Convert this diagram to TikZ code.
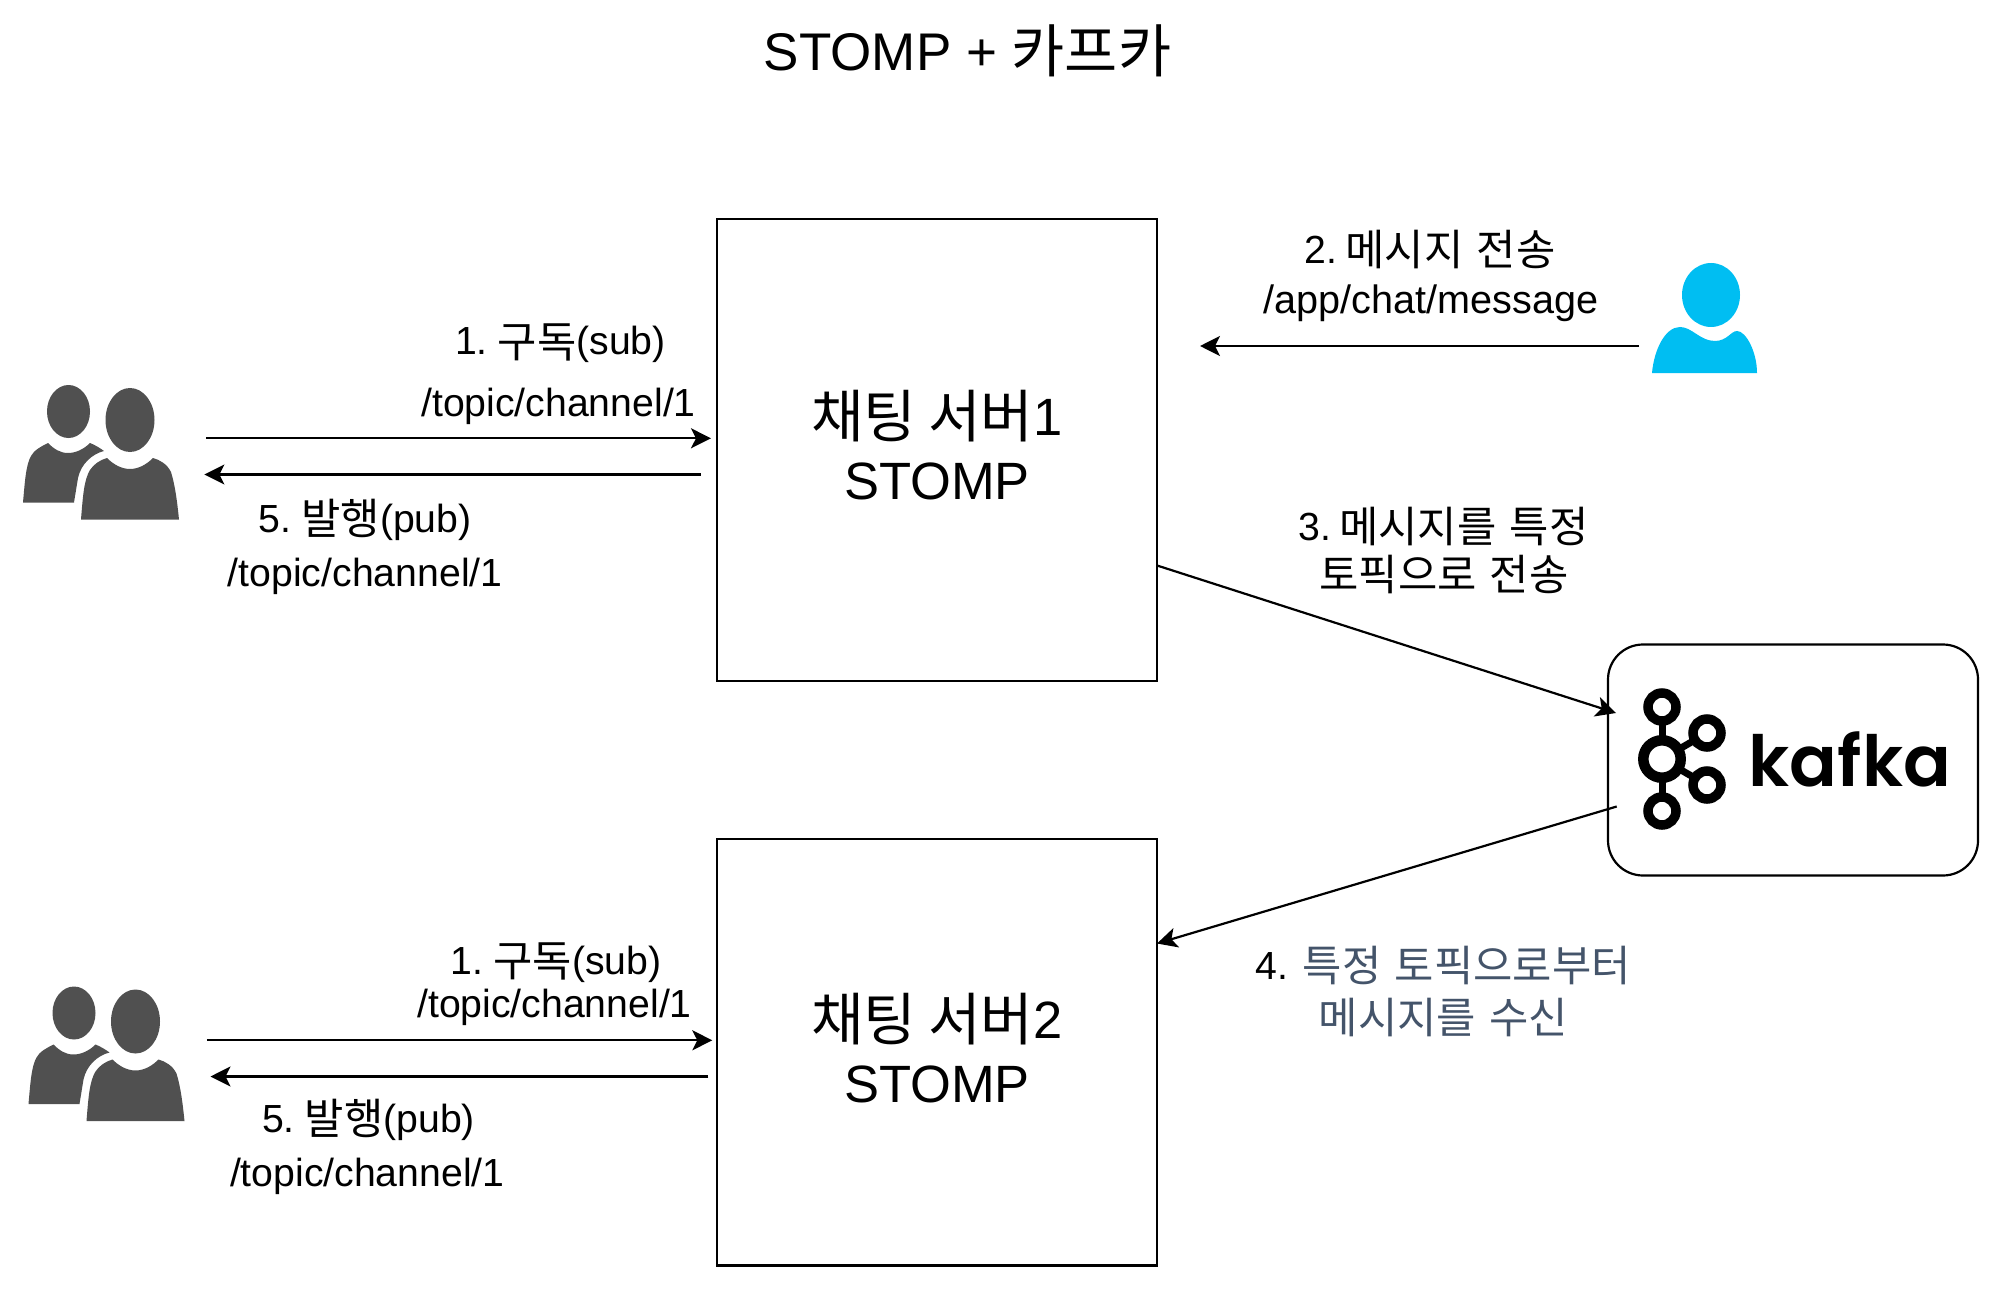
\documentclass[tikz,border=0pt]{standalone}
\usepackage{fontspec}
\usetikzlibrary{arrows.meta}
\setmainfont{Liberation Sans}
\newfontfamily\kr[Scale=1.09,WordSpace=1.4]{Noto Sans CJK KR}
\newfontfamily\kafkafont{Poppins}[UprightFont=* SemiBold]
\newcommand{\K}[1]{\raisebox{-2pt}{\kr #1}}
\definecolor{slatetext}{HTML}{44546A}
\definecolor{peoplegray}{HTML}{505050}
\definecolor{userblue}{HTML}{00BEF2}
\tikzset{
  x=1pt,y=-1pt,
  link/.style={line width=2.2pt,-{Stealth[length=20pt,width=20pt,inset=5pt]}},
  server/.style={draw,line width=2.2pt,minimum width=440.3pt,inner sep=0pt},
  bigtext/.style={inner sep=0pt,align=center,yshift=4.5pt,font=\fontsize{52.5}{64}\selectfont},
  lab/.style={inner sep=0pt,anchor=base,font=\fontsize{39.2}{46}\selectfont,align=center},
  ring/.style={draw=black,line width=9.5pt},
  spoke/.style={draw=black,line width=7pt},
  pics/people/.style={code={
    \fill[peoplegray] (68.5,411.5) ellipse[x radius=21.5,y radius=26.5];
    \fill[peoplegray] (130,420) ellipse[x radius=24.5,y radius=32];
    \fill[peoplegray] (23,502.5) .. controls (25,480) and (26,465) .. (31,456)
      .. controls (34,450) and (42,446) .. (48,443)
      .. controls (54,449) and (60,453) .. (68,453)
      .. controls (76,453) and (84,449) .. (90,443)
      .. controls (95,445) and (100,448) .. (104,451)
      .. controls (92,454) and (81,464) .. (78,478)
      -- (74,502.5) -- cycle;
    \fill[peoplegray] (81,519.5) .. controls (83,495) and (84,480) .. (90,470)
      .. controls (94,464) and (100,460) .. (107,458)
      .. controls (113,464) and (121,469) .. (130,469)
      .. controls (139,469) and (147,464) .. (153,458)
      .. controls (160,460) and (167,464) .. (171,472)
      .. controls (175,485) and (177,500) .. (179,519.5) -- cycle;
  }}
}
\begin{document}
\begin{tikzpicture}
\useasboundingbox (0,0) rectangle (2000,1289);
\fill[white] (0,0) rectangle (2000,1289);

\node[lab,font=\fontsize{53}{60}\selectfont] (title) at (967.5,70.5) {STOMP + \K{카프카}};

\node[server,minimum height=462pt] (box1) at (937,449.9) {};
\node[bigtext] (box1text) at (box1.center) {\K{채팅\hspace{-6pt} 서버}1\\STOMP};
\node[server,minimum height=426.7pt] (box2) at (937,1052.2) {};
\node[bigtext] (box2text) at (box2.center) {\K{채팅\hspace{-6pt} 서버}2\\STOMP};

\node[draw,line width=2.2pt,rounded corners=35pt,minimum width=370pt,minimum height=231pt,inner sep=0pt] (kafkabox) at (1793,760) {};

% Kafka logo
\draw[spoke] (1662,707) -- (1662,811);
\draw[spoke] (1662,759) -- (1707,733);
\draw[spoke] (1662,759) -- (1707,785);
\filldraw[ring,fill=white] (1662,707) circle[radius=14];
\filldraw[ring,fill=white] (1662,811) circle[radius=14];
\filldraw[ring,fill=white] (1707,733) circle[radius=14];
\filldraw[ring,fill=white] (1707,785) circle[radius=14];
\filldraw[ring,fill=white,line width=10.5pt] (1662,759) circle[radius=18.7];
\node[inner sep=0pt,anchor=base west] (kafkaword) at (1748.5,786) {\fontsize{70.5}{72}\kafkafont\selectfont kafka};

% People
\pic (peopletop) at (0,0) {people};
\pic (peoplebot) at (5.5,601.5) {people};

% User
\fill[userblue] (1711,295) ellipse[x radius=29,y radius=32];
\fill[userblue] (1652,373) .. controls (1654,350) and (1665,327) .. (1680,327)
  .. controls (1692,327) and (1700,341) .. (1715,341)
  .. controls (1727,341) and (1731,331) .. (1737,331)
  .. controls (1746,331) and (1757,352) .. (1757,373) -- cycle;

% Connector ends
\coordinate (a1s) at (206,438.3);
\coordinate (a1e) at (711,438.3);
\coordinate (a5s) at (700.7,474.5);
\coordinate (a5e) at (204.4,474.5);
\coordinate (a2s) at (1639,346);
\coordinate (a2e) at (1200,346);
\coordinate (a3s) at (1157.7,565.7);
\coordinate (a3e) at (1616,713);
\coordinate (a4s) at (1616.7,806.5);
\coordinate (a4e) at (1157,943.5);
\coordinate (b1s) at (206.8,1040.3);
\coordinate (b1e) at (712.3,1040.3);
\coordinate (b5s) at (708.3,1076.5);
\coordinate (b5e) at (210.5,1076.5);

\draw[link] (a1s) -- (a1e);
\draw[link] (a5s) -- (a5e);
\draw[link] (a2s) -- (a2e);
\draw[link] (a3s) -- (a3e);
\draw[link] (a4s) -- (a4e);
\draw[link] (b1s) -- (b1e);
\draw[link] (b5s) -- (b5e);

% Labels
\node[lab] (l1a) at (560.5,355) {1.\hspace{10pt}\K{구독}(sub)};
\node[lab] (l1b) at (558.5,416) {/topic/channel/1};
\node[lab] (l5a) at (365.2,532.2) {5.\hspace{10pt}\K{발행}(pub)};
\node[lab] (l5b) at (365.2,586.5) {/topic/channel/1};
\node[lab] (l2a) at (1430,264) {2.\hspace{8pt}\K{메시지 전송}};
\node[lab,font=\fontsize{39.6}{46}\selectfont] (l2b) at (1431,313.5) {/app/chat/message};
\node[lab] (l3a) at (1443.5,540) {3.\hspace{8pt}\K{메시지를 특정}};
\node[lab] (l3b) at (1444,588) {\K{토픽으로 전송}};
\node[lab] (l4a) at (1443.3,979) {4. \textcolor{slatetext}{\K{특정 토픽으로부터}}};
\node[lab,text=slatetext] (l4b) at (1443.5,1031) {\K{메시지를 수신}};
\node[lab] (m1a) at (556,974) {1.\hspace{10pt}\K{구독}(sub)};
\node[lab] (m1b) at (554.5,1017.5) {/topic/channel/1};
\node[lab] (m5a) at (368.6,1132) {5.\hspace{10pt}\K{발행}(pub)};
\node[lab] (m5b) at (367.3,1186) {/topic/channel/1};
\end{tikzpicture}
\end{document}
